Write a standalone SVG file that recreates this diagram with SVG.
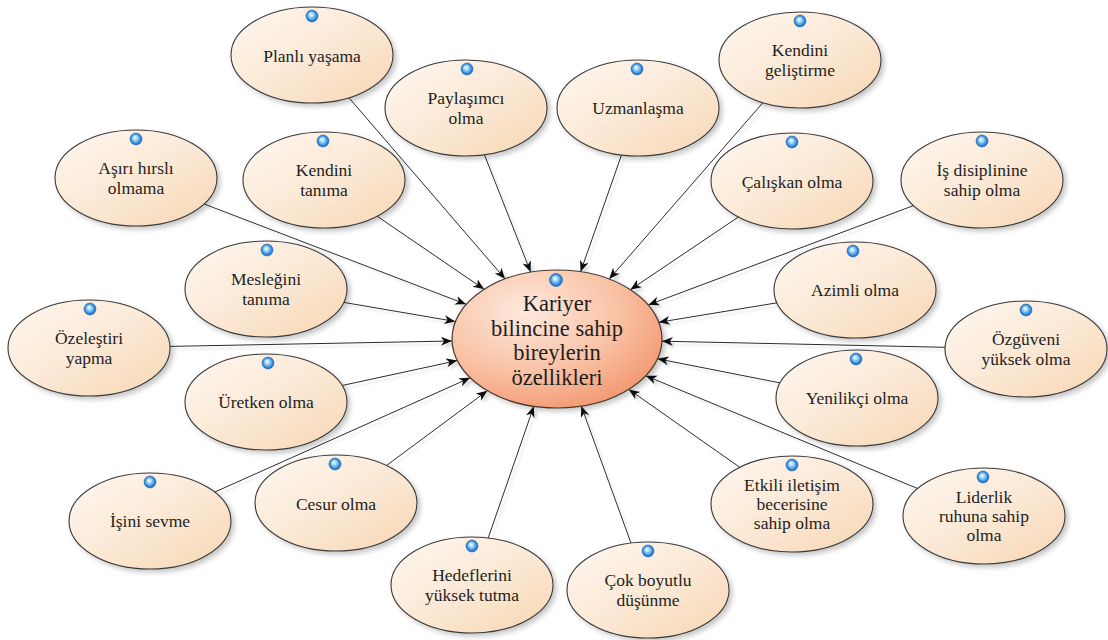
<svg xmlns="http://www.w3.org/2000/svg" width="1108" height="640" viewBox="0 0 1108 640" font-family="'Liberation Serif', Lato, serif">
  <defs>
    <linearGradient id="nodeFill" x1="0" y1="0" x2="1" y2="1">
      <stop offset="0" stop-color="#fef7f0"/>
      <stop offset="0.5" stop-color="#fbe9d6"/>
      <stop offset="1" stop-color="#f7d6b3"/>
    </linearGradient>
    <radialGradient id="hubFill" cx="0.35" cy="0.3" r="0.8">
      <stop offset="0" stop-color="#fde9de"/>
      <stop offset="0.55" stop-color="#f9c2a5"/>
      <stop offset="1" stop-color="#f2936a"/>
    </radialGradient>
    <radialGradient id="dotFill" cx="0.5" cy="0.5" r="0.5" fx="0.4" fy="0.35">
      <stop offset="0" stop-color="#ffffff"/>
      <stop offset="0.35" stop-color="#a9dcfa"/>
      <stop offset="0.75" stop-color="#3a92e2"/>
      <stop offset="1" stop-color="#1d5ea8"/>
    </radialGradient>
    <filter id="shade" x="-20%" y="-20%" width="150%" height="150%">
      <feDropShadow dx="3" dy="3" stdDeviation="2.5" flood-color="#000" flood-opacity="0.22"/>
    </filter>
    <filter id="lineShade" x="-10%" y="-10%" width="130%" height="130%">
      <feDropShadow dx="3" dy="3" stdDeviation="0.8" flood-color="#9aa0a8" flood-opacity="0.35"/>
    </filter>
    <marker id="arrow" markerUnits="userSpaceOnUse" markerWidth="12" markerHeight="10" refX="11" refY="4.5" orient="auto">
      <path d="M0,0 L11,4.5 L0,9 L3,4.5 Z" fill="#111"/>
    </marker>
    <style>
      .node ellipse { fill: url(#nodeFill); stroke: #3a3a3a; stroke-width: 1.1; filter: url(#shade); }
      .hub ellipse { fill: url(#hubFill); stroke: #4a3a32; stroke-width: 1.2; filter: url(#shade); }
      .dot { fill: url(#dotFill); stroke: #2a6fb8; stroke-width: 0.6; }
      text { font-family: 'Liberation Serif', Lato, serif; fill: #1e1e1e; text-anchor: middle; dominant-baseline: central; }
      .node text { font-size: 17.5px; }
      .hub text { font-size: 22.5px; }
      #connectors line { stroke: #2b2b2b; stroke-width: 1; marker-end: url(#arrow); }
    </style>
  </defs>

  <rect width="1108" height="640" fill="#ffffff"/>

  <!-- connectors: each runs from a trait bubble to the central bubble -->
  <g id="connectors" filter="url(#lineShade)">
    <line x1="348.9" y1="97.7" x2="505.2" y2="279.0"/>
    <line x1="484.4" y1="154.7" x2="530.7" y2="272.2"/>
    <line x1="621.5" y1="155.0" x2="580.6" y2="271.8"/>
    <line x1="762.9" y1="102.7" x2="609.2" y2="279.1"/>
    <line x1="204.1" y1="204.0" x2="466.2" y2="304.3"/>
    <line x1="377.1" y1="216.2" x2="484.2" y2="289.3"/>
    <line x1="738.4" y1="217.0" x2="630.4" y2="289.7"/>
    <line x1="913.5" y1="205.6" x2="648.3" y2="304.9"/>
    <line x1="343.8" y1="302.4" x2="455.4" y2="321.5"/>
    <line x1="777.0" y1="302.8" x2="658.8" y2="322.3"/>
    <line x1="170.0" y1="346.4" x2="452.0" y2="341.0"/>
    <line x1="945.1" y1="347.3" x2="661.9" y2="341.2"/>
    <line x1="342.1" y1="385.5" x2="457.3" y2="360.6"/>
    <line x1="780.1" y1="382.9" x2="657.6" y2="358.8"/>
    <line x1="214.7" y1="492.1" x2="470.2" y2="377.8"/>
    <line x1="386.5" y1="465.5" x2="487.4" y2="390.7"/>
    <line x1="739.8" y1="467.3" x2="628.8" y2="389.4"/>
    <line x1="917.6" y1="488.5" x2="645.8" y2="375.8"/>
    <line x1="488.2" y1="538.0" x2="533.8" y2="406.3"/>
    <line x1="631.0" y1="543.1" x2="581.3" y2="406.1"/>
  </g>

  <!-- central bubble -->
  <g id="hub" class="hub">
    <ellipse cx="557" cy="339" rx="105" ry="69"/>
    <circle class="dot" cx="556" cy="280" r="6.5"/>
    <text x="557" y="303">Kariyer</text>
    <text x="557" y="328">bilincine sahip</text>
    <text x="557" y="352">bireylerin</text>
    <text x="557" y="377">özellikleri</text>
  </g>

  <!-- trait bubbles -->
  <g id="planli-yasama" class="node">
    <ellipse cx="312" cy="55" rx="81" ry="48"/>
    <circle class="dot" cx="312" cy="16" r="6"/>
    <text x="312" y="56">Planlı yaşama</text>
  </g>
  <g id="paylasimci-olma" class="node">
    <ellipse cx="466" cy="108" rx="81" ry="48"/>
    <circle class="dot" cx="467" cy="69" r="6"/>
    <text x="466" y="98">Paylaşımcı</text>
    <text x="466" y="118">olma</text>
  </g>
  <g id="uzmanlasma" class="node">
    <ellipse cx="638" cy="108" rx="81" ry="48"/>
    <circle class="dot" cx="637" cy="69" r="6"/>
    <text x="638" y="108">Uzmanlaşma</text>
  </g>
  <g id="kendini-gelistirme" class="node">
    <ellipse cx="800" cy="60" rx="81" ry="48"/>
    <circle class="dot" cx="800" cy="21" r="6"/>
    <text x="800" y="50">Kendini</text>
    <text x="800" y="70">geliştirme</text>
  </g>
  <g id="asiri-hirsli-olmama" class="node">
    <ellipse cx="136" cy="178" rx="81" ry="48"/>
    <circle class="dot" cx="136" cy="139" r="6"/>
    <text x="136" y="168">Aşırı hırslı</text>
    <text x="136" y="188">olmama</text>
  </g>
  <g id="kendini-tanima" class="node">
    <ellipse cx="324" cy="180" rx="81" ry="48"/>
    <circle class="dot" cx="323" cy="141" r="6"/>
    <text x="324" y="170">Kendini</text>
    <text x="324" y="190">tanıma</text>
  </g>
  <g id="caliskan-olma" class="node">
    <ellipse cx="792" cy="181" rx="81" ry="48"/>
    <circle class="dot" cx="792" cy="142" r="6"/>
    <text x="792" y="182">Çalışkan olma</text>
  </g>
  <g id="is-disiplini" class="node">
    <ellipse cx="982" cy="180" rx="81" ry="48"/>
    <circle class="dot" cx="982" cy="141" r="6"/>
    <text x="982" y="170">İş disiplinine</text>
    <text x="982" y="190">sahip olma</text>
  </g>
  <g id="meslegini-tanima" class="node">
    <ellipse cx="266" cy="289" rx="81" ry="48"/>
    <circle class="dot" cx="267" cy="250" r="6"/>
    <text x="266" y="279">Mesleğini</text>
    <text x="266" y="299">tanıma</text>
  </g>
  <g id="azimli-olma" class="node">
    <ellipse cx="855" cy="290" rx="81" ry="48"/>
    <circle class="dot" cx="853" cy="251" r="6"/>
    <text x="855" y="290">Azimli olma</text>
  </g>
  <g id="ozelestiri-yapma" class="node">
    <ellipse cx="89" cy="348" rx="81" ry="48"/>
    <circle class="dot" cx="90" cy="309" r="6"/>
    <text x="89" y="338">Özeleştiri</text>
    <text x="89" y="358">yapma</text>
  </g>
  <g id="ozguveni-yuksek-olma" class="node">
    <ellipse cx="1026" cy="349" rx="81" ry="48"/>
    <circle class="dot" cx="1026" cy="310" r="6"/>
    <text x="1026" y="339">Özgüveni</text>
    <text x="1026" y="359">yüksek olma</text>
  </g>
  <g id="uretken-olma" class="node">
    <ellipse cx="266" cy="402" rx="81" ry="48"/>
    <circle class="dot" cx="268" cy="363" r="6"/>
    <text x="266" y="402">Üretken olma</text>
  </g>
  <g id="yenilikci-olma" class="node">
    <ellipse cx="857" cy="398" rx="81" ry="48"/>
    <circle class="dot" cx="856" cy="359" r="6"/>
    <text x="857" y="398">Yenilikçi olma</text>
  </g>
  <g id="isini-sevme" class="node">
    <ellipse cx="150" cy="521" rx="81" ry="48"/>
    <circle class="dot" cx="150" cy="482" r="6"/>
    <text x="150" y="521">İşini sevme</text>
  </g>
  <g id="cesur-olma" class="node">
    <ellipse cx="336" cy="503" rx="81" ry="48"/>
    <circle class="dot" cx="335" cy="464" r="6"/>
    <text x="336" y="504">Cesur olma</text>
  </g>
  <g id="etkili-iletisim" class="node">
    <ellipse cx="792" cy="504" rx="81" ry="48"/>
    <circle class="dot" cx="792" cy="465" r="6"/>
    <text x="792" y="485">Etkili iletişim</text>
    <text x="792" y="504">becerisine</text>
    <text x="792" y="523">sahip olma</text>
  </g>
  <g id="liderlik-ruhu" class="node">
    <ellipse cx="984" cy="516" rx="81" ry="48"/>
    <circle class="dot" cx="983" cy="477" r="6"/>
    <text x="984" y="497">Liderlik</text>
    <text x="984" y="516">ruhuna sahip</text>
    <text x="984" y="535">olma</text>
  </g>
  <g id="hedeflerini-yuksek-tutma" class="node">
    <ellipse cx="472" cy="585" rx="81" ry="48"/>
    <circle class="dot" cx="472" cy="546" r="6"/>
    <text x="472" y="575">Hedeflerini</text>
    <text x="472" y="595">yüksek tutma</text>
  </g>
  <g id="cok-boyutlu-dusunme" class="node">
    <ellipse cx="648" cy="590" rx="81" ry="48"/>
    <circle class="dot" cx="648" cy="551" r="6"/>
    <text x="648" y="580">Çok boyutlu</text>
    <text x="648" y="600">düşünme</text>
  </g>
</svg>
